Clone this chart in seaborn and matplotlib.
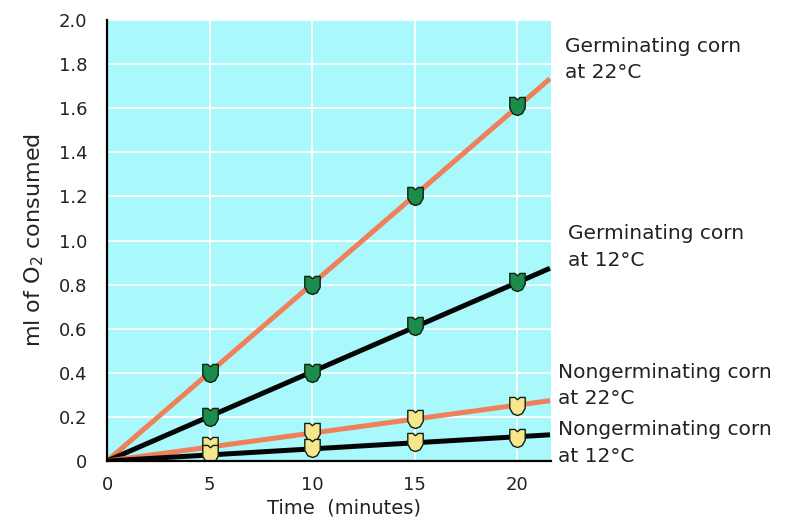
import numpy as np
import pandas as pd
import matplotlib
matplotlib.use("Agg")
import matplotlib.pyplot as plt
from matplotlib.path import Path
import seaborn as sns

# ---- data ----
time_min = [5, 10, 15, 20]
germ_22 = [0.40, 0.80, 1.20, 1.61]
germ_12 = [0.20, 0.40, 0.61, 0.81]
nongerm_22 = [0.07, 0.13, 0.19, 0.25]
nongerm_12 = [0.03, 0.06, 0.085, 0.105]
series_names = ["Germinating corn\nat 22°C", "Germinating corn\nat 12°C",
                "Nongerminating corn\nat 22°C", "Nongerminating corn\nat 12°C"]
x_ticks = [0, 5, 10, 15, 20]
y_ticks = [0, 0.2, 0.4, 0.6, 0.8, 1.0, 1.2, 1.4, 1.6, 1.8, 2.0]
y_tick_labels = ["0", "0.2", "0.4", "0.6", "0.8", "1.0", "1.2", "1.4", "1.6", "1.8", "2.0"]
x_max = 21.6

# ---- style ----
sns.set_style("white")
plt.rcParams["font.family"] = ["DejaVu Sans"]

BG = "#a8f8fc"
ORANGE = "#f0805a"
BLACK = "#050505"
GREEN = "#1c8c4c"
YELLOW = "#f8e68c"

line_colors = [ORANGE, BLACK, ORANGE, BLACK]
marker_colors = [GREEN, GREEN, YELLOW, YELLOW]
values = [germ_22, germ_12, nongerm_22, nongerm_12]

# shield-like marker
sx = 0.85
raw = [(-1, 1), (-0.35, 1), (0, 0.75), (0.35, 1), (1, 1), (1, -0.2),
       (0.6, -0.8), (0, -1), (-0.6, -0.8), (-1, -0.2), (-1, 1)]
verts = [(vx * sx, vy) for vx, vy in raw]
codes = [Path.MOVETO] + [Path.LINETO] * (len(verts) - 2) + [Path.CLOSEPOLY]
shield = Path(verts, codes)

W, H = 789, 522
fig = plt.figure(figsize=(W / 100, H / 100), dpi=100)
ax = fig.add_axes([107 / W, 1 - 461 / H, (551 - 107) / W, (461 - 20) / H])
ax.set_facecolor(BG)

xs = np.array(time_min, dtype=float)
xfit = np.array([0.0, x_max])
for vals, lc in zip(values, line_colors):
    ys = np.array(vals)
    slope = (xs * ys).sum() / (xs * xs).sum()
    fit = pd.DataFrame({"x": xfit, "y": slope * xfit})
    sns.lineplot(data=fit, x="x", y="y", ax=ax, color=lc, linewidth=3.6,
                 solid_capstyle="butt", zorder=3)

for vals, mc in zip(values, marker_colors):
    df = pd.DataFrame({"x": time_min, "y": vals})
    sns.scatterplot(data=df, x="x", y="y", ax=ax, marker=shield, s=170,
                    color=mc, edgecolor="#102010", linewidth=1.0, zorder=4)

ax.set_xlim(0, 21.65)
ax.set_ylim(0, 2.0)
ax.set_xticks(x_ticks)
ax.set_xticklabels([str(t) for t in x_ticks])
ax.set_yticks(y_ticks)
ax.set_yticklabels(y_tick_labels)
ax.grid(True, color="white", linewidth=1.3)
ax.set_axisbelow(True)

for s in ["top", "right"]:
    ax.spines[s].set_visible(False)
for s in ["left", "bottom"]:
    ax.spines[s].set_color("black")
    ax.spines[s].set_linewidth(1.6)
    ax.spines[s].set_zorder(5)

ax.tick_params(axis="y", direction="in", length=9, width=1.6, pad=14,
               labelsize=13, colors="#222222")
ax.tick_params(axis="x", direction="out", length=8, width=1.3, pad=3,
               labelsize=13, colors="#222222")
ax.tick_params(axis="both", color="black")

ax.set_xlabel("Time  (minutes)", fontsize=14, color="#222222")
ax.set_ylabel(r"ml of O$_2$ consumed", fontsize=16, color="#222222")
ax.xaxis.set_label_coords((344 - 107) / (551 - 107), -(508 - 461) / (461 - 20))
ax.xaxis.label.set_va("center")
ax.yaxis.set_label_coords(-(107 - 34) / (551 - 107), 0.5)
ax.yaxis.label.set_va("center")

label_pos = [(565, 37), (568, 224), (558, 363), (558, 420)]
for name, (px, py) in zip(series_names, label_pos):
    fig.text(px / W, 1 - py / H, name, fontsize=14.5, va="top", ha="left",
             linespacing=1.5, color="#222222", transform=fig.transFigure)

fig.savefig("out.png", dpi=100, facecolor="white")
